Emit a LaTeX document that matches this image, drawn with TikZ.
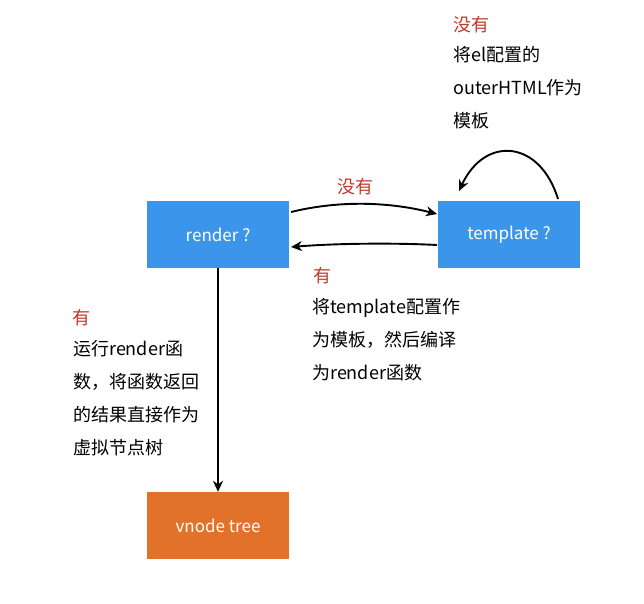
\documentclass[tikz,border=0pt]{standalone}
\usepackage{fontspec}
\setmainfont{Noto Sans CJK SC}
\usetikzlibrary{arrows.meta}
\definecolor{boxblue}{HTML}{3B95EA}
\definecolor{boxorange}{HTML}{E2712A}
\definecolor{labred}{HTML}{C0392B}
\begin{document}
\begin{tikzpicture}[x=1pt,y=-1pt,
  box/.style={minimum width=142pt,minimum height=67pt,inner sep=0pt,text=white,font=\fontsize{17}{19}\selectfont},
  lab/.style={text=labred,font=\fontsize{18}{20}\selectfont,inner sep=0pt},
  desc/.style={anchor=north west,align=left,inner sep=0pt,font=\fontsize{18}{33}\selectfont},
  arr/.style={line width=1.9pt,-{Stealth[length=11pt,width=10pt]}}]
\useasboundingbox (0,0) rectangle (644,603);
\node[box,fill=boxblue] (render) at (218,234.5) {render ?};
\node[box,fill=boxblue] (tpl) at (509,234.5) {template ?};
\node[box,fill=boxorange] (vnode) at (218,525.5) {vnode tree};
\coordinate (r1) at (291,212);
\coordinate (t1) at (437,214);
\coordinate (t2) at (437,245);
\coordinate (r2) at (291,247);
\draw[arr] (r1) .. controls (340,200) and (390,202) .. (t1);
\draw[arr] (t2) .. controls (400,243) and (340,243) .. (r2);
\draw[arr] (render.south) -- (vnode.north);
\coordinate (lp1) at (558,199);
\coordinate (lp2) at (459,191);
\draw[arr] (lp1) .. controls (540,140) and (485,135) .. (lp2);
\node[lab] (no1) at (355,187) {没有};
\node[lab] (yes1) at (322,276) {有};
\node[lab,anchor=west] (no2) at (453,25) {没有};
\node[desc] (d1) at (453,46) {将el配置的\\outerHTML作为\\模板};
\node[lab,anchor=west] (yes2) at (72,318) {有};
\node[desc] (d2) at (73,340) {运行render函\\数，将函数返回\\的结果直接作为\\虚拟节点树};
\node[desc] (d3) at (312,298) {将template配置作\\为模板，然后编译\\为render函数};
\end{tikzpicture}
\end{document}
